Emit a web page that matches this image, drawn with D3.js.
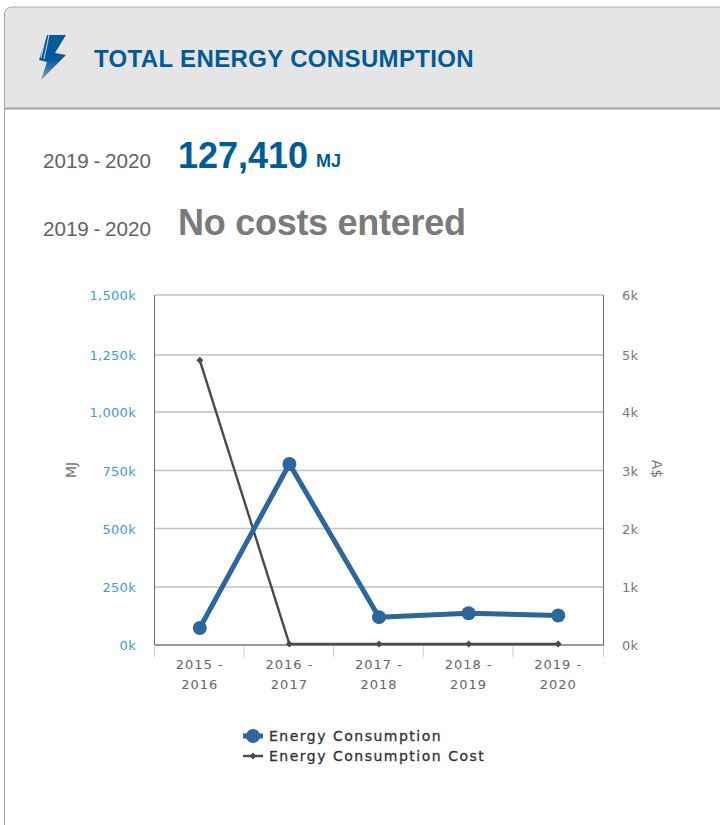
<!DOCTYPE html>
<html><head><meta charset="utf-8">
<script src="https://cdn.jsdelivr.net/npm/d3@7"></script>
<style>
html,body{margin:0;padding:0;background:#fff;overflow:hidden}
svg{display:block}
</style></head><body>
<svg id="c" width="720" height="825"></svg>
<script>
const categories=[["2015 -","2016"],["2016 -","2017"],["2017 -","2018"],["2018 -","2019"],["2019 -","2020"]];
const consumption=[73,778,120,137,127.41];
const cost=[4.89,0,0,0,0];
const leftTicks=[0,250,500,750,1000,1250,1500];
const rightTicks=[0,1,2,3,4,5,6];
const seriesNames=["Energy Consumption","Energy Consumption Cost"];
const svg=d3.select("#c");
const arial="'Liberation Sans',Arial,sans-serif", verd="'DejaVu Sans',Verdana,sans-serif";
const BLUE="#005b9a", LINE="#2b669f", DARK="#4a4a4a";
// card
svg.append("path").attr("d","M4.5,825V14a7,7 0 0 1 7,-7H720V109H4.5").attr("fill","#e5e5e5");
svg.append("rect").attr("x",5).attr("y",109).attr("width",715).attr("height",716).attr("fill","#fff");
svg.append("path").attr("d","M4.5,825V14a7,7 0 0 1 7,-7H720").attr("fill","none").attr("stroke","#a6a6a6");
svg.append("line").attr("x1",4).attr("x2",720).attr("y1",108.5).attr("y2",108.5).attr("stroke","#a0a0a0").attr("stroke-width",2);
// icon
const grad=svg.append("defs").append("linearGradient").attr("id","bolt").attr("x1",0).attr("x2",0).attr("y1",0).attr("y2",1);
grad.append("stop").attr("offset","0.55").attr("stop-color",BLUE);
grad.append("stop").attr("offset","1").attr("stop-color","#7f9fb8");
svg.append("path").attr("d","M47,35H66L55,53L66,55L41,80L47,62L39,60Z").attr("fill","url(#bolt)");
svg.append("path").attr("d","M46,35L41,58M49,35L44,59").attr("stroke","#e5e5e5").attr("stroke-width",0.9).attr("fill","none");
const t=(x,y,s,size,fill,fam,w,ls,ws)=>svg.append("text").attr("x",x).attr("y",y).text(s).attr("font-size",size).attr("fill",fill).attr("font-family",fam).attr("font-weight",w||400).attr("letter-spacing",ls||0).attr("word-spacing",ws||0);
t(94,67,"TOTAL ENERGY CONSUMPTION",24,BLUE,arial,700,"0.35px");
t(43,168,"2019 - 2020",20.6,"#636363",arial,400,0,"-1px");
t(178,167.5,"127,410",36,BLUE,arial,700);
t(316,167,"MJ",18,BLUE,arial,700);
t(43,236,"2019 - 2020",20.6,"#636363",arial,400,0,"-1px");
t(178,235,"No costs entered",36,"#7a7a7a",arial,700,"-0.27px");
// scales (the reference's gridlines are slightly unevenly spaced)
const x=d3.scaleBand().domain(d3.range(categories.length)).range([155,603]);
const cx=i=>x(i)+x.bandwidth()/2;
const plotY=[645,587,528.5,470.5,412,355,295];
const yL=d3.scaleLinear().domain(leftTicks).range(plotY);
const yR=d3.scaleLinear().domain(rightTicks).range(plotY);
// grid
svg.append("g").selectAll("line").data(leftTicks.slice(1)).join("line")
 .attr("x1",155).attr("x2",603).attr("y1",d=>yL(d)).attr("y2",d=>yL(d)).attr("stroke","#c2c2c2").attr("stroke-width",1.4);
// axes lines
svg.append("line").attr("x1",154.5).attr("x2",154.5).attr("y1",295).attr("y2",645).attr("stroke","#6e6e6e");
svg.append("line").attr("x1",603.5).attr("x2",603.5).attr("y1",295).attr("y2",645).attr("stroke","#6e6e6e");
svg.append("line").attr("x1",155).attr("x2",604).attr("y1",645).attr("y2",645).attr("stroke","#777").attr("stroke-width",1.3);
// x ticks
svg.append("g").selectAll("line").data(d3.range(categories.length+1)).join("line")
 .attr("x1",i=>i<5?x(i)-.5:603.5).attr("x2",i=>i<5?x(i)-.5:603.5).attr("y1",646).attr("y2",657).attr("stroke","#c0d0e0");
const ls="0.3px";
categories.forEach((c,i)=>{
 c.forEach((line,j)=>svg.append("text").attr("text-anchor","middle").attr("x",cx(i)).attr("y",669+j*20).text(line).attr("font-size",13).attr("letter-spacing","1px").attr("fill","#666").attr("font-family",verd));
});
// y labels
svg.append("g").selectAll("text").data(leftTicks).join("text").attr("x",136).attr("y",d=>yL(d)+5).attr("text-anchor","end")
 .text(d=>d3.format(",")(d)+"k").attr("font-size",13).attr("letter-spacing",ls).attr("fill","#3d9dd8").attr("font-family",verd);
svg.append("g").selectAll("text").data(rightTicks).join("text").attr("x",622).attr("y",d=>yR(d)+5)
 .text(d=>d+"k").attr("font-size",13).attr("letter-spacing",ls).attr("fill","#777").attr("font-family",verd);
svg.append("text").attr("transform","translate(76,470) rotate(-90)").attr("text-anchor","middle").text("MJ").attr("font-size",14).attr("fill","#777").attr("font-family",verd);
svg.append("text").attr("transform","translate(652,469) rotate(90)").attr("text-anchor","middle").text("A$").attr("font-size",14).attr("fill","#777").attr("font-family",verd);
// series
const diamond=(g,px,py,r)=>g.append("path").attr("d",`M${px},${py-r}L${px+r},${py}L${px},${py+r}L${px-r},${py}Z`).attr("fill",DARK);
const costG=svg.append("g").attr("transform","translate(0,-1)");
costG.append("path").attr("d",d3.line().x((d,i)=>cx(i)).y(d=>yR(d))(cost)).attr("fill","none").attr("stroke",DARK).attr("stroke-width",2.4);
svg.append("path").attr("d",d3.line().x((d,i)=>cx(i)).y(d=>yL(d))(consumption)).attr("fill","none").attr("stroke",LINE).attr("stroke-width",5);
svg.append("g").selectAll("circle").data(consumption).join("circle").attr("cx",(d,i)=>cx(i)).attr("cy",d=>yL(d)).attr("r",7).attr("fill",LINE);
cost.forEach((d,i)=>diamond(costG,cx(i),yR(d),3.5));
// legend
svg.append("line").attr("x1",243).attr("x2",263).attr("y1",736).attr("y2",736).attr("stroke",LINE).attr("stroke-width",5);
svg.append("circle").attr("cx",253).attr("cy",736).attr("r",7).attr("fill",LINE);
svg.append("line").attr("x1",243).attr("x2",263).attr("y1",756).attr("y2",756).attr("stroke",DARK).attr("stroke-width",2.4);
diamond(svg,253,756,3.5);
seriesNames.forEach((s,i)=>svg.append("text").attr("x",269).attr("y",741+i*20).text(s).attr("font-size",14).attr("letter-spacing","1.5px").attr("stroke","#333").attr("stroke-width",0.3).attr("fill","#333").attr("font-family",verd));
</script></body></html>
